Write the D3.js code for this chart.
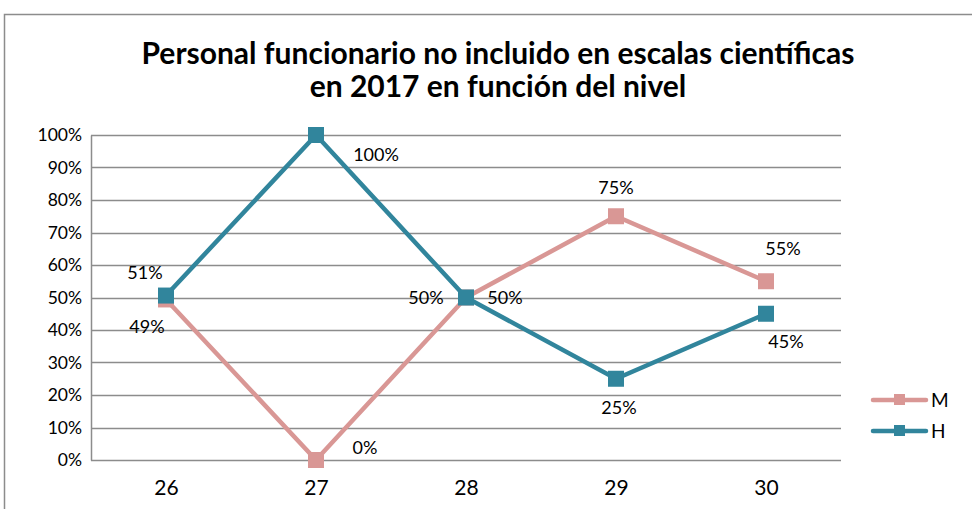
<!DOCTYPE html>
<html>
<head>
<meta charset="utf-8">
<script src="https://cdn.jsdelivr.net/npm/d3@7"></script>
<style>
  body { margin: 0; background: #fff; }
  svg { display: block; font-family: Lato, "Open Sans", sans-serif; }
</style>
</head>
<body>
<svg id="chart" width="972" height="509"></svg>
<script>
// chart data
var categories = ["26", "27", "28", "29", "30"];
var seriesNames = ["M", "H"];
var valuesM = [0.494, 0.00, 0.50, 0.75, 0.55];
var valuesH = [0.506, 1.00, 0.50, 0.25, 0.45];
var yTicks = [0, 0.1, 0.2, 0.3, 0.4, 0.5, 0.6, 0.7, 0.8, 0.9, 1.0];
var titleLines = ["Personal funcionario no incluido en escalas científicas", "en 2017 en función del nivel"];

// data label offsets (dx, dy from the point), one per category
var labelOffsetM = [[-19, 34], [49, -6], [-40, 6], [0, -22], [17, -26]];
var labelOffsetH = [[-21, -17], [60, 26], [39, 6], [3, 35], [20, 34]];

var colors = { M: "#d99795", H: "#31859c" };

var svg = d3.select("#chart"),
    margin = { top: 135, right: 131, bottom: 49, left: 91 },
    width = 972 - margin.left - margin.right,
    height = 509 - margin.top - margin.bottom;

// outer frame of the chart area
svg.append("rect")
    .attr("x", 4.5).attr("y", 14.5)
    .attr("width", 1000).attr("height", 600)
    .attr("fill", "none").attr("stroke", "#8c8c8c").attr("stroke-width", 1.5);

// title
svg.append("text")
    .attr("x", 498).attr("y", 64)
    .attr("text-anchor", "middle")
    .style("font", "bold 30px Lato, sans-serif")
    .selectAll("tspan").data(titleLines).enter().append("tspan")
    .attr("x", 498)
    .attr("dy", function(d, i) { return i ? 33 : 0; })
    .text(function(d) { return d; });

var g = svg.append("g").attr("transform", "translate(" + margin.left + "," + margin.top + ")");

var xScale = d3.scalePoint().domain(categories).range([0, width]).padding(0.5),
    yScale = d3.scaleLinear().domain([0, 1]).range([height, 0]);

// horizontal gridlines
g.append("g").selectAll("line").data(yTicks).enter().append("line")
    .attr("x1", 0).attr("x2", width)
    .attr("y1", function(d) { return Math.round(yScale(d)) + 0.5; })
    .attr("y2", function(d) { return Math.round(yScale(d)) + 0.5; })
    .attr("stroke", "#8c8c8c").attr("stroke-width", 1.5);

// y axis
var yAxis = g.append("g")
    .call(d3.axisLeft(yScale).tickValues(yTicks).tickFormat(d3.format(".0%")).tickSize(0).tickPadding(9));
yAxis.select(".domain").attr("stroke", "#8c8c8c").attr("stroke-width", 1.5);
yAxis.selectAll("text").style("font", "17.5px Lato, sans-serif").attr("fill", "#000");

// x axis
var xAxis = g.append("g")
    .attr("transform", "translate(0," + height + ")")
    .call(d3.axisBottom(xScale).tickSize(0).tickPadding(20));
xAxis.select(".domain").remove();
xAxis.selectAll("text").style("font", "21px Lato, sans-serif").attr("fill", "#000");

var series = [
    { id: "M", values: valuesM, off: labelOffsetM },
    { id: "H", values: valuesH, off: labelOffsetH }
];

var line = d3.line()
    .x(function(d, i) { return xScale(categories[i]); })
    .y(function(d) { return yScale(d); });

series.forEach(function(s) {
    var sg = g.append("g");
    sg.append("path")
        .attr("d", line(s.values))
        .attr("fill", "none")
        .attr("stroke", colors[s.id])
        .attr("stroke-width", 4.5);
    sg.selectAll("rect").data(s.values).enter().append("rect")
        .attr("x", function(d, i) { return xScale(categories[i]) - 8; })
        .attr("y", function(d) { return yScale(d) - 8; })
        .attr("width", 16).attr("height", 16)
        .attr("fill", colors[s.id]);
});

// data labels drawn after both lines
series.forEach(function(s) {
    g.append("g").selectAll("text").data(s.values).enter().append("text")
        .attr("x", function(d, i) { return xScale(categories[i]) + s.off[i][0]; })
        .attr("y", function(d, i) { return yScale(d) + s.off[i][1]; })
        .attr("text-anchor", "middle")
        .style("font", "18px Lato, sans-serif")
        .text(function(d) { return d3.format(".0%")(d); });
});

// legend
var legend = svg.append("g").attr("transform", "translate(873,400)");
var item = legend.selectAll("g").data(seriesNames).enter().append("g")
    .attr("transform", function(d, i) { return "translate(0," + i * 31 + ")"; });
item.append("line")
    .attr("x1", 0).attr("x2", 53)
    .attr("stroke", function(d) { return colors[d]; })
    .attr("stroke-width", 4.5).attr("stroke-linecap", "round");
item.append("rect")
    .attr("x", 21).attr("y", -6).attr("width", 11).attr("height", 11)
    .attr("fill", function(d) { return colors[d]; });
item.append("text")
    .attr("x", 58).attr("y", 7)
    .style("font", "19px Lato, sans-serif")
    .text(function(d) { return d; });
</script>
</body>
</html>
